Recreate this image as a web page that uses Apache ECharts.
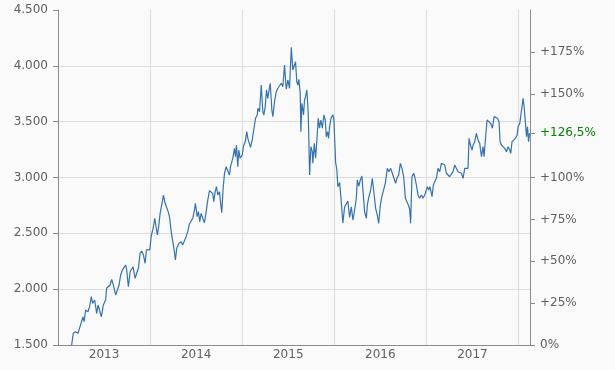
<!DOCTYPE html>
<html>
<head>
<meta charset="utf-8">
<script src="https://cdn.jsdelivr.net/npm/echarts@6/dist/echarts.min.js"></script>
<style>
html,body{margin:0;padding:0;background:#fafafa;}
#chart{width:615px;height:370px;}
</style>
</head>
<body>
<div id="chart"></div>
<script>
// x positions as decimal years, values of the index
const years = [
2013.148,2013.166,2013.191,2013.217,2013.239,2013.253,2013.272,2013.283,2013.300,2013.326,
2013.343,2013.362,2013.376,2013.398,2013.420,2013.435,2013.471,2013.492,2013.517,2013.528,
2013.543,2013.565,2013.583,2013.601,2013.626,2013.645,2013.663,2013.680,2013.699,2013.717,
2013.735,2013.746,2013.764,2013.783,2013.800,2013.815,2013.837,2013.854,2013.873,2013.891,
2013.909,2013.927,2013.946,2013.960,2013.978,2013.996,2014.014,2014.033,2014.050,2014.065,
2014.079,2014.093,2014.109,2014.126,2014.145,2014.159,2014.177,2014.196,2014.210,2014.232,
2014.246,2014.261,2014.275,2014.289,2014.315,2014.337,2014.354,2014.373,2014.391,2014.409,
2014.427,2014.446,2014.463,2014.482,2014.492,2014.511,2014.525,2014.539,2014.554,2014.572,
2014.590,2014.609,2014.626,2014.645,2014.663,2014.680,2014.691,2014.707,2014.721,2014.735,
2014.753,2014.764,2014.778,2014.793,2014.808,2014.826,2014.843,2014.862,2014.873,2014.898,
2014.916,2014.927,2014.938,2014.952,2014.963,2014.978,2015.000,2015.014,2015.033,2015.050,
2015.061,2015.072,2015.090,2015.109,2015.126,2015.145,2015.163,2015.170,2015.188,2015.207,
2015.224,2015.235,2015.250,2015.264,2015.278,2015.304,2015.322,2015.333,2015.351,2015.370,
2015.387,2015.405,2015.424,2015.441,2015.460,2015.478,2015.496,2015.514,2015.533,2015.550,
2015.568,2015.579,2015.593,2015.604,2015.615,2015.630,2015.637,2015.648,2015.659,2015.666,
2015.677,2015.688,2015.702,2015.717,2015.732,2015.746,2015.761,2015.767,2015.783,2015.797,
2015.811,2015.826,2015.840,2015.854,2015.870,2015.887,2015.902,2015.913,2015.927,2015.938,
2015.949,2015.967,2015.985,2015.996,2016.014,2016.028,2016.039,2016.058,2016.076,2016.093,
2016.112,2016.128,2016.147,2016.166,2016.185,2016.202,2016.221,2016.239,2016.250,2016.266,
2016.283,2016.300,2016.311,2016.329,2016.348,2016.359,2016.376,2016.395,2016.413,2016.427,
2016.449,2016.467,2016.482,2016.500,2016.517,2016.536,2016.554,2016.576,2016.593,2016.612,
2016.630,2016.648,2016.666,2016.680,2016.699,2016.717,2016.735,2016.753,2016.772,2016.789,
2016.804,2016.818,2016.829,2016.843,2016.862,2016.873,2016.891,2016.909,2016.927,2016.946,
2016.963,2016.982,2017.000,2017.011,2017.025,2017.039,2017.061,2017.076,2017.090,2017.109,
2017.126,2017.145,2017.163,2017.180,2017.199,2017.217,2017.235,2017.253,2017.272,2017.289,
2017.308,2017.326,2017.343,2017.362,2017.380,2017.398,2017.416,2017.435,2017.452,2017.463,
2017.478,2017.496,2017.507,2017.525,2017.543,2017.561,2017.579,2017.598,2017.615,2017.626,
2017.645,2017.659,2017.677,2017.699,2017.717,2017.735,2017.753,2017.772,2017.789,2017.800,
2017.815,2017.833,2017.851,2017.870,2017.887,2017.905,2017.916,2017.930,2017.949,2017.967,
2017.985,2017.996,2018.014,2018.033,2018.050,2018.061,2018.076,2018.087,2018.098,2018.109,
2018.120
];
const values = [
1500,1605,1619,1605,1664,1679,1753,1709,1813,1798,
1843,1933,1873,1903,1784,1858,1753,1858,1903,2008,
2022,2037,2088,2037,1948,1993,2037,2127,2172,2156,
2216,2172,2022,2156,2172,2201,2097,2142,2187,2321,
2342,2306,2232,2351,2366,2351,2485,2545,2635,2559,
2485,2559,2679,2754,2843,2783,2738,2694,2649,2500,
2515,2351,2261,2366,2411,2425,2396,2411,2470,2515,
2584,2595,2635,2709,2769,2649,2694,2604,2679,2635,
2595,2694,2798,2882,2873,2858,2783,2873,2918,2843,
2873,2783,2685,2903,3038,3097,3082,3022,3097,3172,
3261,3186,3291,3097,3246,3172,3201,3282,3321,3410,
3351,3365,3270,3336,3432,3530,3560,3620,3589,3828,
3589,3560,3634,3784,3709,3844,3604,3545,3679,3768,
3799,3813,3844,3813,4007,3790,3873,3799,4166,3963,
4007,4037,3858,3828,3879,3754,3410,3664,3604,3560,
3694,3724,3784,3575,3022,3276,3231,3127,3306,3172,
3336,3530,3441,3515,3441,3560,3515,3365,3410,3351,
3455,3539,3560,3515,3139,3067,2918,2955,2781,2593,
2736,2727,2790,2642,2738,2619,2709,2814,2978,2924,
2978,3013,2888,2694,2635,2754,2828,2888,2993,2888,
2724,2664,2590,2754,2828,2814,2948,3082,3052,3082,
3038,2993,2948,2993,3022,3127,3082,3007,2814,2825,
2754,2718,2590,3007,3038,3007,2933,2843,2814,2843,
2814,2843,2828,2918,2888,2918,2828,2933,2963,2993,
3082,3052,3127,3141,3112,3038,3052,3007,3022,3052,
3112,3112,3052,3052,3038,2993,3082,3073,3082,3351,
3291,3246,3291,3321,3396,3336,3306,3186,3276,3186,
3381,3515,3500,3485,3441,3545,3560,3530,3500,3321,
3291,3306,3261,3231,3276,3246,3216,3321,3321,3351,
3381,3455,3485,3500,3709,3634,3485,3365,3455,3321,
3397.5
];
const yearLabels = [2013, 2014, 2015, 2016, 2017];
const priceTicks = [1500, 2000, 2500, 3000, 3500, 4000, 4500];
const pctTicks = [0, 25, 50, 75, 100, 150, 175];

const baseValue = values[0];
const lastValue = values[values.length - 1];
const lastPct = Math.round((lastValue / baseValue - 1) * 1000) / 10;
const yMin = priceTicks[0], yMax = priceTicks[priceTicks.length - 1];
const pMin = (yMin / baseValue - 1) * 100, pMax = (yMax / baseValue - 1) * 100;

const labelColor = '#606060';
const axisColor = '#8c8c8c';
const font = 'DejaVu Sans, Verdana, sans-serif';

function fmtThousands(v) {
  return String(v).replace(/\B(?=(\d{3})+(?!\d))/g, '.');
}
function fmtPct(v) {
  const s = String(v).replace('.', ',');
  return v === 0 ? '0%' : '+' + s + '%';
}

const chart = echarts.init(document.getElementById('chart'), null, {renderer: 'canvas'});
const pctValues = pctTicks.concat([lastPct]).sort((a, b) => a - b);

chart.setOption({
  backgroundColor: '#fafafa',
  animation: false,
  grid: {left: 58, right: 85, top: 10, bottom: 25, outerBoundsMode: 'none'},
  xAxis: {
    type: 'value',
    min: yearLabels[0],
    max: 2018.125,
    interval: 1,
    axisLine: {show: true, lineStyle: {color: axisColor, width: 1}},
    axisTick: {show: false},
    splitLine: {show: true, lineStyle: {color: '#dcdcdc', width: 1}},
    axisLabel: {
      customValues: yearLabels.map(y => y + 0.5),
      formatter: v => String(Math.floor(v)),
      color: labelColor, fontFamily: font, fontSize: 12, margin: 4
    }
  },
  yAxis: [{
    type: 'value',
    position: 'left',
    min: yMin, max: yMax, interval: 500,
    axisLine: {show: true, lineStyle: {color: axisColor, width: 1}},
    axisTick: {show: true, length: 5, lineStyle: {color: axisColor}},
    splitLine: {show: true, showMaxLine: false, lineStyle: {color: '#dcdcdc', width: 1}},
    axisLabel: {formatter: fmtThousands, color: labelColor, fontFamily: font, fontSize: 12, margin: 10}
  }, {
    type: 'value',
    position: 'right',
    min: pMin, max: pMax, interval: 25,
    axisLine: {show: true, lineStyle: {color: axisColor, width: 1}},
    axisTick: {show: true, length: 5, inside: false, customValues: pctValues, lineStyle: {color: axisColor}},
    splitLine: {show: false},
    axisLabel: {
      customValues: pctValues,
      formatter: v => v === lastPct ? '{g|' + fmtPct(v) + '}' : fmtPct(v),
      rich: {g: {color: '#008000', fontFamily: font, fontSize: 12}},
      color: labelColor, fontFamily: font, fontSize: 12, margin: 10
    }
  }],
  series: [{
    type: 'line',
    yAxisIndex: 0,
    data: years.map((y, i) => [y, values[i]]),
    showSymbol: false,
    symbol: 'none',
    lineStyle: {color: '#3572b0', width: 1.2},
    z: 3
  }]
});
</script>
</body>
</html>
